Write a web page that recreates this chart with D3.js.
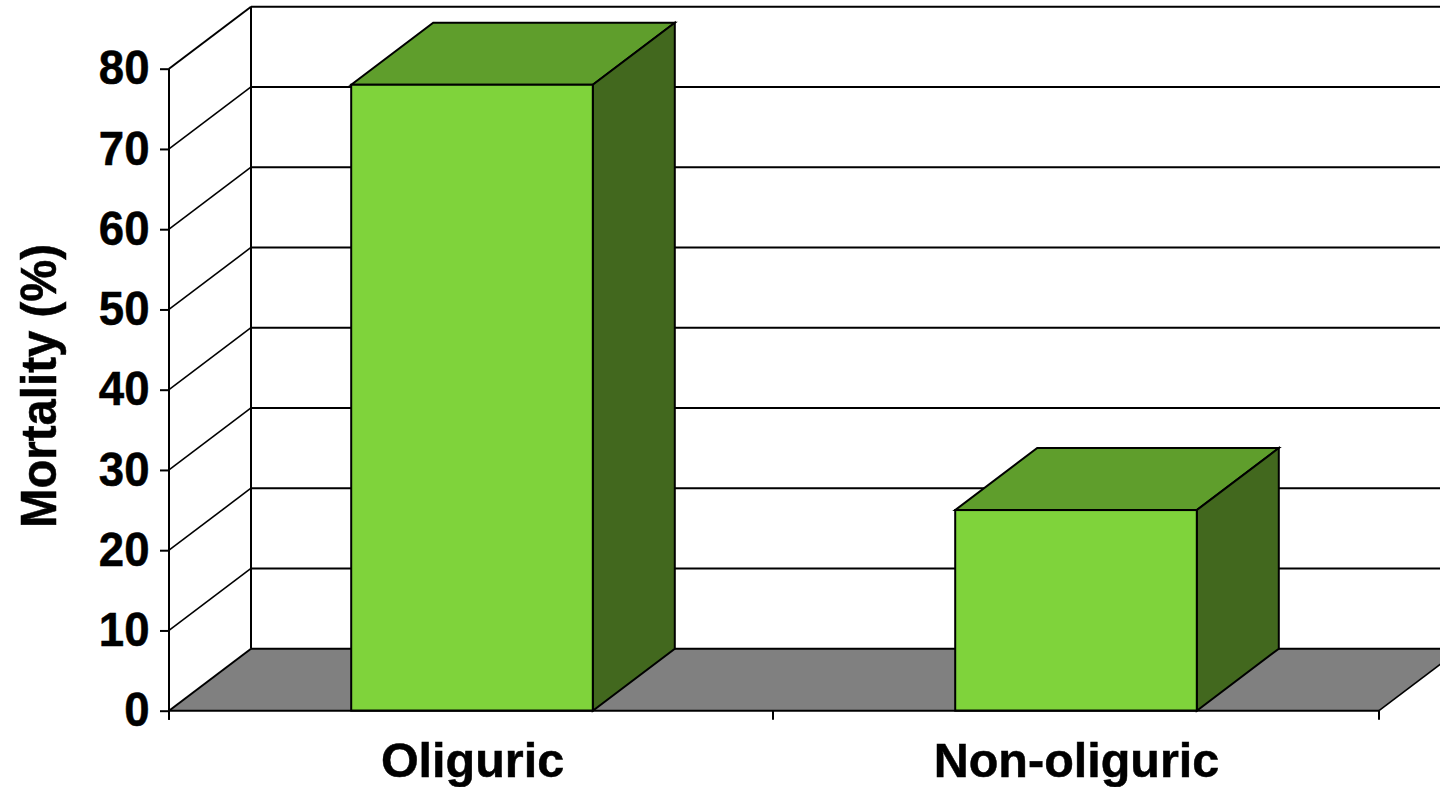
<!DOCTYPE html>
<html>
<head>
<meta charset="utf-8">
<script src="https://cdnjs.cloudflare.com/ajax/libs/d3/7.8.5/d3.min.js"></script>
<style>
html, body { margin: 0; padding: 0; background: #fff; overflow: hidden; }
svg { display: block; }
text { font-family: "Liberation Sans", Arial, sans-serif; font-weight: bold; fill: #000; stroke: #000; stroke-width: 0.5px; }
</style>
</head>
<body>
<svg id="chart" width="1440" height="787"></svg>
<script>
const categories = ["Oliguric", "Non-oliguric"];
const mortality = [78, 25];
const yTicks = [0, 10, 20, 30, 40, 50, 60, 70, 80];
const yTitle = "Mortality (%)";

const svg = d3.select("#chart");

// Oblique projection offset of the 3D box
const depthX = 82, depthY = -62;

// Plot floor edges and the category boundary ticks along the front
const plotLeft = 169, plotRight = 1379;
const edgeTicks = [plotLeft, 773, plotRight];

const x = d3.scaleBand().domain(categories).range([plotLeft + 1, plotRight - 1]);
const y = d3.scaleLinear().domain([0, 80]).range([710.7, 68.7]);

const barWidth = x.bandwidth() * 0.4;
const barLeft = c => x(c) + (x.bandwidth() - barWidth) / 2;
const line = d3.line();

// Floor
svg.append("path")
  .attr("d", line([[plotLeft, y(0)], [plotLeft + depthX, y(0) + depthY],
                   [plotRight + depthX, y(0) + depthY], [plotRight, y(0)]]) + "Z")
  .attr("fill", "#808080");

// Back wall gridlines
svg.append("g").selectAll("line").data(yTicks).join("line")
  .attr("x1", plotLeft + depthX).attr("x2", plotRight + depthX)
  .attr("y1", d => y(d) + depthY).attr("y2", d => y(d) + depthY)
  .attr("stroke", "#000").attr("stroke-width", 2);

// Side wall gridlines
svg.append("g").selectAll("line").data(yTicks).join("line")
  .attr("x1", plotLeft).attr("x2", plotLeft + depthX)
  .attr("y1", d => y(d)).attr("y2", d => y(d) + depthY)
  .attr("stroke", "#000").attr("stroke-width", d => d === 0 || d === 80 ? 2 : 1.6);

// Back wall left edge and floor right edge
svg.append("line")
  .attr("x1", plotLeft + depthX).attr("x2", plotLeft + depthX)
  .attr("y1", y(80) + depthY).attr("y2", y(0) + depthY)
  .attr("stroke", "#000").attr("stroke-width", 2);
svg.append("line")
  .attr("x1", plotRight).attr("x2", plotRight + depthX)
  .attr("y1", y(0)).attr("y2", y(0) + depthY)
  .attr("stroke", "#000").attr("stroke-width", 1.6);

// Bars: top, side, front
const bars = svg.append("g").selectAll("g")
  .data(categories.map((c, i) => ({ c, v: mortality[i] })))
  .join("g")
  .attr("stroke", "#000").attr("stroke-width", 2).attr("stroke-linejoin", "miter");

bars.append("path").attr("fill", "#5f9e2c").attr("d", d => {
  const l = barLeft(d.c), r = l + barWidth, t = y(d.v);
  return line([[l, t], [l + depthX, t + depthY], [r + depthX, t + depthY], [r, t]]) + "Z";
});
bars.append("path").attr("fill", "#42681e").attr("d", d => {
  const r = barLeft(d.c) + barWidth, t = y(d.v);
  return line([[r, t], [r + depthX, t + depthY], [r + depthX, y(0) + depthY], [r, y(0)]]) + "Z";
});
bars.append("rect").attr("fill", "#7fd33b")
  .attr("x", d => barLeft(d.c)).attr("width", barWidth)
  .attr("y", d => y(d.v)).attr("height", d => y(0) - y(d.v));

// Value axis
const yAxis = svg.append("g")
  .attr("transform", `translate(${plotLeft},0)`)
  .call(d3.axisLeft(y).tickValues(yTicks).tickSize(9).tickFormat(d3.format("d")));
yAxis.selectAll(".domain, line").attr("stroke", "#000").attr("stroke-width", 2);
yAxis.select(".domain").attr("d", `M0,${y(80)}V${y(0) + 9}`);
yAxis.selectAll("text")
  .attr("font-size", 47.5).attr("fill", "#000")
  .attr("x", -20.3).attr("transform", "scale(0.96,1)")
  .style("font-family", '"Liberation Sans", Arial, sans-serif').style("font-weight", "bold");

// Category axis
svg.append("line")
  .attr("x1", plotLeft).attr("x2", plotRight)
  .attr("y1", y(0)).attr("y2", y(0))
  .attr("stroke", "#000").attr("stroke-width", 2);
svg.append("g").selectAll("line").data(edgeTicks).join("line")
  .attr("x1", d => d).attr("x2", d => d)
  .attr("y1", y(0)).attr("y2", y(0) + 9)
  .attr("stroke", "#000").attr("stroke-width", 2);
svg.append("g").selectAll("text").data(categories).join("text")
  .attr("x", c => x(c) + x.bandwidth() / 2 + 0.5)
  .attr("y", 777)
  .attr("text-anchor", "middle")
  .attr("font-size", 48.5)
  .text(c => c);

// Value axis title
svg.append("text")
  .attr("transform", "translate(56,386) rotate(-90)")
  .attr("text-anchor", "middle")
  .attr("font-size", 49.5)
  .attr("textLength", 284)
  .attr("lengthAdjust", "spacingAndGlyphs")
  .text(yTitle);
</script>
</body>
</html>
